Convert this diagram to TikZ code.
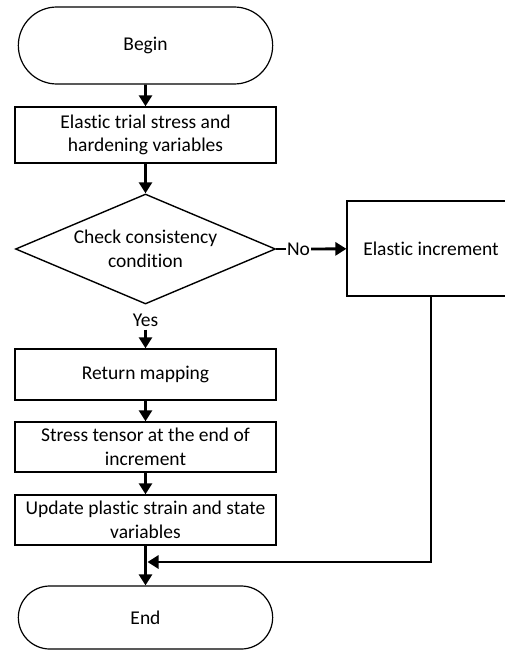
\documentclass[tikz,border=0pt]{standalone}
\usepackage{fontspec}
\setmainfont[Ligatures=NoCommon]{Carlito}
\usetikzlibrary{shapes.geometric,shapes.misc,arrows.meta}

\begin{document}
\begin{tikzpicture}[x=1pt,y=-1pt,
    every node/.style={font=\fontsize{19.5}{23.5}\selectfont},
    terminal/.style={draw,line width=1.2pt,rounded rectangle,minimum width=261pt,minimum height=77pt},
    process/.style={draw,line width=1.4pt,minimum width=261pt,align=center,inner sep=0pt},
    decision/.style={draw,line width=1.4pt,diamond,aspect=2.36,minimum width=260pt,minimum height=110pt,inner sep=0pt,align=center},
    arr/.style={line width=2.8pt,-{Triangle[width=13pt,length=11pt]}},
    flow/.style={line width=2.8pt}]
                    \clip (0,0) rectangle (505,650);
                    
                    \node[terminal] (begin) at (145.5,45.5) {Begin};
                    \node[process,minimum height=56pt] (trial) at (145.5,135) {Elastic trial stress and\\hardening variables};
                    \node[decision] (check) at (145.5,249) {Check consistency\\condition};
                    \node[inner sep=1pt] (no) at (298.5,249) {No};
                    \node[draw,line width=1.2pt,minimum width=168pt,minimum height=95pt] (elastic) at (431,248.5) {Elastic increment};
                    \node[inner sep=3pt] (yes) at (145.5,320) {Yes};
                    \node[process,minimum height=51pt] (return) at (145.5,374.5) {Return mapping};
                    \node[process,minimum height=50pt] (stress) at (145.5,447) {Stress tensor at the end of\\increment};
                    \node[process,minimum height=50pt] (update) at (145.5,520) {Update plastic strain and state\\variables};
                    \node[terminal,minimum height=63pt] (end) at (145.5,617.5) {End};
                    \coordinate (join) at (147.5,562);
                    
                    \draw[arr] (begin) -- (trial);
                    \draw[arr] (trial) -- (check);
                    \draw[flow] (check) -- (no);
                    \draw[arr] (no) -- (elastic);
                    \draw[arr] (yes) -- (return);
                    \draw[arr] (return) -- (stress);
                    \draw[arr] (stress) -- (update);
                    \draw[arr] (update) -- (end);
                    \draw[arr] (elastic) |- (join);
                    % \draw[arr] (check) -- (yes);
                    
                \end{tikzpicture}
\end{document}
